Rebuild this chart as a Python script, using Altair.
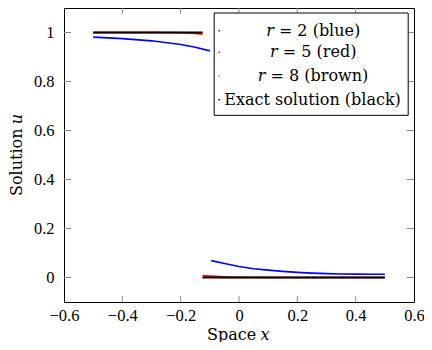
import altair as alt
import pandas as pd

# ---------------- data ----------------
x_ticks = [-0.6, -0.4, -0.2, 0, 0.2, 0.4, 0.6]
x_inner_ticks = [-0.4, -0.2, 0, 0.2, 0.4]
y_ticks = [0, 0.2, 0.4, 0.6, 0.8, 1]

blue_up_x = [-0.5, -0.4, -0.3, -0.2, -0.15, -0.1]
blue_up_u = [0.981, 0.975, 0.966, 0.951, 0.940, 0.925]
blue_lo_x = [-0.095, -0.05, 0.0, 0.05, 0.1, 0.15, 0.2, 0.25, 0.3, 0.35, 0.4, 0.45, 0.5]
blue_lo_u = [0.069, 0.057, 0.045, 0.036, 0.030, 0.025, 0.021, 0.018, 0.016, 0.0145, 0.0138, 0.0133, 0.013]

red_up_x = [-0.5, -0.3, -0.2, -0.16, -0.14, -0.125]
red_up_u = [1.0, 1.0, 0.999, 0.997, 0.995, 0.993]
red_lo_x = [-0.125, -0.1, -0.07, -0.04, 0.0, 0.1, 0.5]
red_lo_u = [0.008, 0.006, 0.004, 0.002, 0.001, 0.0, 0.0]

brown_up_x = [-0.5, -0.2, -0.15, -0.125]
brown_up_u = [1.0, 1.0, 0.999, 0.998]
brown_lo_x = [-0.125, -0.1, -0.05, 0.5]
brown_lo_u = [0.003, 0.002, 0.0, 0.0]

exact_up_x = [-0.5, -0.125]
exact_up_u = [1.0, 1.0]
exact_lo_x = [-0.125, 0.5]
exact_lo_u = [0.0, 0.0]

series_names = ["blue", "brown", "red", "black"]
series_colors = ["#0000FF", "#BF8040", "#FF0000", "#000000"]

legend_rows = [("r", "= 2 (blue)", "#0000FF"),
               ("r", "= 5 (red)", "#FF0000"),
               ("r", "= 8 (brown)", "#BF8040"),
               ("", "Exact solution (black)", "#000000")]

# ---------------- build table ----------------
rows = []
def add(name, seg, xs, us):
    for i, (a, b) in enumerate(zip(xs, us)):
        rows.append({"x": a, "u": b, "series": name, "seg": f"{name}-{seg}", "i": i})

add("blue", "up", blue_up_x, blue_up_u)
add("blue", "lo", blue_lo_x, blue_lo_u)
add("brown", "up", brown_up_x, brown_up_u)
add("brown", "lo", brown_lo_x, brown_lo_u)
add("red", "up", red_up_x, red_up_u)
add("red", "lo", red_lo_x, red_lo_u)
add("black", "up", exact_up_x, exact_up_u)
add("black", "lo", exact_lo_x, exact_lo_u)
df = pd.DataFrame(rows)

W, H = 350, 294
FONT = "DejaVu Serif"
TICKFONT = "Liberation Serif"
FS = 16

# approximate DejaVu Serif advance widths (em)
CW = {" ": .318, "=": .838, "(": .39, ")": .39, "b": .64, "l": .32, "u": .644, "e": .592,
      "r": .478, "d": .64, "o": .602, "w": .867, "n": .644, "E": .73, "x": .645, "a": .596,
      "c": .56, "t": .402, "s": .513, "i": .32, "k": .608, "S": .635, "p": .64}
def tw(s):
    return sum(CW.get(ch, .636) for ch in s) * FS

xs = alt.Scale(domain=[-0.6, 0.6], nice=False, zero=False)
ys = alt.Scale(domain=[-0.1, 1.1], nice=False, zero=False)

x_axis = alt.Axis(values=x_ticks, format="~g", title=None, ticks=False, domain=False,
                  grid=False, labelFont=TICKFONT, labelFontSize=16.5, labelColor="black",
                  labelFlush=False, labelPadding=5, labelOverlap=False)
y_axis = alt.Axis(values=y_ticks, format="~g", title=None, ticks=False, domain=False,
                  grid=False, labelFont=TICKFONT, labelFontSize=16.5, labelColor="black",
                  labelPadding=10, labelOverlap=False)

color = alt.Color("series:N", scale=alt.Scale(domain=series_names, range=series_colors), legend=None)

layers = []
for name, sw in [("blue", 1.6), ("brown", 1.6), ("red", 1.6), ("black", 2.2)]:
    sub = df[df.series == name]
    ln = alt.Chart(sub).mark_line(strokeWidth=sw).encode(
        x=alt.X("x:Q", scale=xs, axis=x_axis),
        y=alt.Y("u:Q", scale=ys, axis=y_axis),
        color=color,
        detail="seg:N",
        order="i:Q",
    )
    layers.append(ln)

# inward ticks on four sides
xt = pd.DataFrame({"x": x_inner_ticks})
yt = pd.DataFrame({"u": y_ticks})
tick_style = dict(color="#8a8a8a", strokeWidth=1)
layers.append(alt.Chart(xt).mark_rule(**tick_style).encode(
    x=alt.X("x:Q", scale=xs, axis=x_axis), y=alt.value(H), y2=alt.value(H - 6)))
layers.append(alt.Chart(xt).mark_rule(**tick_style).encode(
    x=alt.X("x:Q", scale=xs, axis=x_axis), y=alt.value(0), y2=alt.value(6)))
layers.append(alt.Chart(yt).mark_rule(**tick_style).encode(
    y=alt.Y("u:Q", scale=ys, axis=y_axis), x=alt.value(0), x2=alt.value(7)))
layers.append(alt.Chart(yt).mark_rule(**tick_style).encode(
    y=alt.Y("u:Q", scale=ys, axis=y_axis), x=alt.value(W), x2=alt.value(W - 7)))

one = pd.DataFrame({"k": [0]})

# legend box
LX0, LX1 = 150.2, 344.2
layers.append(alt.Chart(one).mark_rect(fill="white", stroke="black", strokeWidth=1).encode(
    x=alt.value(LX0), x2=alt.value(LX1), y=alt.value(5), y2=alt.value(107.3)))

row_y = [22.7, 44.3, 68.3, 91.7]
cx = (LX0 + LX1) / 2 + 2
for (it, rest, col), yy in zip(legend_rows, row_y):
    layers.append(alt.Chart(one).mark_point(filled=True, size=2, shape="square", color=col, opacity=1).encode(
        x=alt.value(LX0 + 5), y=alt.value(yy)))
    lead = tw(it + " ") if it else 0
    total = lead + tw(rest)
    start = cx - total / 2
    if it:
        layers.append(alt.Chart(pd.DataFrame({"t": [it]})).mark_text(
            font=FONT, fontSize=FS, fontStyle="italic", align="left", baseline="middle", color="black").encode(
            x=alt.value(start), y=alt.value(yy), text="t:N"))
    layers.append(alt.Chart(pd.DataFrame({"t": [rest]})).mark_text(
        font=FONT, fontSize=FS, align="left", baseline="middle", color="black").encode(
        x=alt.value(start + lead), y=alt.value(yy), text="t:N"))

# x axis title: "Space x"
xt_main, xt_it = "Space", "x"
tot = tw(xt_main + " ") + tw(xt_it)
st = W / 2 - tot / 2
TY = 331.5
layers.append(alt.Chart(pd.DataFrame({"t": [xt_main]})).mark_text(
    font=FONT, fontSize=FS, align="left", baseline="alphabetic", color="black").encode(
    x=alt.value(st), y=alt.value(TY), text="t:N"))
layers.append(alt.Chart(pd.DataFrame({"t": [xt_it]})).mark_text(
    font=FONT, fontSize=FS, fontStyle="italic", align="left", baseline="alphabetic", color="black").encode(
    x=alt.value(st + tw(xt_main + " ")), y=alt.value(TY), text="t:N"))

# y axis title: "Solution u"
yt_main, yt_it = "Solution", "u"
tot = tw(yt_main + " ") + tw(yt_it)
sy = H / 2 + tot / 2
layers.append(alt.Chart(pd.DataFrame({"t": [yt_main]})).mark_text(
    font=FONT, fontSize=FS, angle=270, align="left", baseline="alphabetic", color="black").encode(
    x=alt.value(-42), y=alt.value(sy), text="t:N"))
layers.append(alt.Chart(pd.DataFrame({"t": [yt_it]})).mark_text(
    font=FONT, fontSize=FS, fontStyle="italic", angle=270, align="left", baseline="alphabetic", color="black").encode(
    x=alt.value(-42), y=alt.value(sy - tw(yt_main + " ")), text="t:N"))

chart = alt.layer(*layers).properties(
    width=W, height=H,
    autosize=alt.AutoSizeParams(type="none"),
    padding={"left": 56, "top": 0, "right": 10, "bottom": 40},
).configure_view(stroke="black", strokeWidth=1).resolve_scale(x="shared", y="shared")

chart.save("out.html", embed_options={"renderer": "svg", "actions": False})
